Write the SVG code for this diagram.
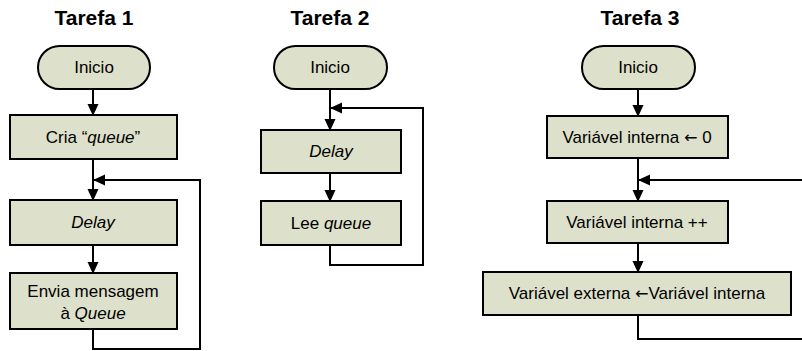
<svg xmlns="http://www.w3.org/2000/svg" width="802" height="351" viewBox="0 0 802 351">
<defs>
<marker id="ah" markerWidth="12" markerHeight="12" viewBox="0 0 12 12" refX="11" refY="6" orient="auto" markerUnits="userSpaceOnUse">
<path d="M0,0.5 L12,6 L0,11.5 Z" fill="#000"/>
</marker>
<style>
.n{fill:#dde0ca;stroke:#000;stroke-width:2}
.t{font-family:"Liberation Sans",Arial,sans-serif;font-size:17px;fill:#000;text-anchor:middle}
.h{font-family:"Liberation Sans",Arial,sans-serif;font-size:21px;font-weight:bold;fill:#000;text-anchor:middle}
.ar{font-family:"DejaVu Sans",sans-serif;font-size:16px}
.c{fill:none;stroke:#000;stroke-width:2}
.a{marker-end:url(#ah)}
</style>
</defs>
<rect width="802" height="351" fill="#fff"/>
<g id="titles">
<text class="h" x="94" y="25">Tarefa 1</text>
<text class="h" x="330" y="25">Tarefa 2</text>
<text class="h" x="640" y="25">Tarefa 3</text>
</g>
<g id="connectors">
<path class="c a" d="M93,89 V115"/>
<path class="c a" d="M93,159 V200"/>
<path class="c a" d="M93,245 V273"/>
<path class="c a" d="M93,329 V349 H200 V180 H94"/>
<path class="c a" d="M330,89 V130"/>
<path class="c a" d="M330,173 V201"/>
<path class="c a" d="M330,245 V265 H423 V108 H331"/>
<path class="c a" d="M638,89 V116"/>
<path class="c a" d="M638,158 V201"/>
<path class="c a" d="M638,243 V272"/>
<path class="c" d="M638,315 V339 H803"/>
<path class="c a" d="M803,180 H639"/>
</g>
<g id="t1-inicio"><rect class="n" x="38" y="46" width="112" height="43" rx="21.5"/><text class="t" x="94" y="73">Inicio</text></g>
<g id="t1-cria"><rect class="n" x="10" y="115" width="167" height="44"/><text class="t" x="93" y="143">Cria “<tspan font-style="italic">queue</tspan>”</text></g>
<g id="t1-delay"><rect class="n" x="10" y="200" width="167" height="45"/><text class="t" x="93" y="228" font-style="italic">Delay</text></g>
<g id="t1-envia"><rect class="n" x="10" y="273" width="167" height="56"/><text class="t" x="93" y="297">Envia mensagem</text><text class="t" x="93" y="319">à <tspan font-style="italic">Queue</tspan></text></g>
<g id="t2-inicio"><rect class="n" x="274" y="46" width="113" height="43" rx="21.5"/><text class="t" x="330" y="73">Inicio</text></g>
<g id="t2-delay"><rect class="n" x="261" y="130" width="140" height="43"/><text class="t" x="331" y="157" font-style="italic">Delay</text></g>
<g id="t2-lee"><rect class="n" x="261" y="201" width="140" height="44"/><text class="t" x="331" y="229">Lee <tspan font-style="italic">queue</tspan></text></g>
<g id="t3-inicio"><rect class="n" x="582" y="46" width="113" height="43" rx="21.5"/><text class="t" x="638" y="73">Inicio</text></g>
<g id="t3-init"><rect class="n" x="547" y="116" width="181" height="42"/><text class="t" x="637" y="143">Variável interna <tspan class="ar">←</tspan> 0</text></g>
<g id="t3-inc"><rect class="n" x="547" y="201" width="181" height="42"/><text class="t" x="637" y="228">Variável interna ++</text></g>
<g id="t3-ext"><rect class="n" x="483" y="272" width="308" height="43"/><text class="t" x="637" y="299">Variável externa <tspan class="ar">←</tspan>Variável interna</text></g>
</svg>
